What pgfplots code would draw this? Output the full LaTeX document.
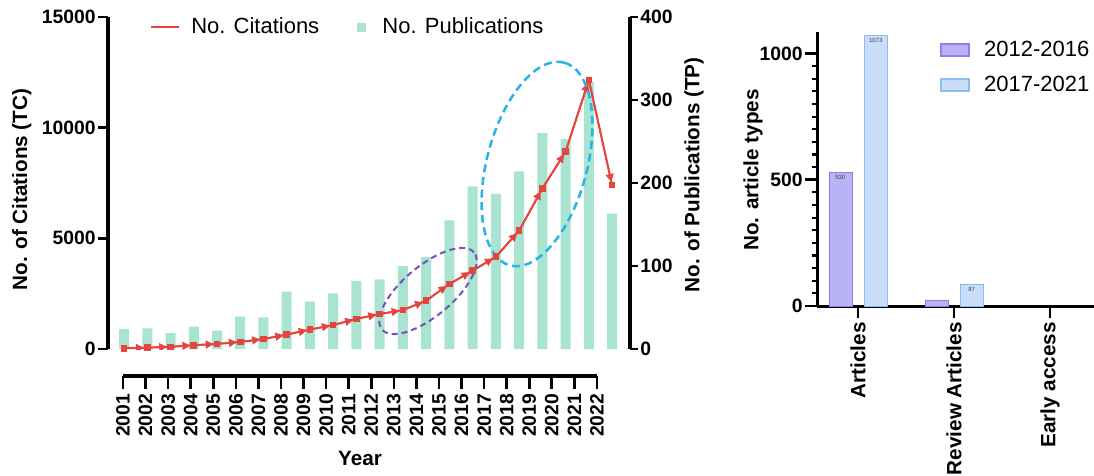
\documentclass[border=0pt]{standalone}
\usepackage{fontspec}
\setmainfont{Liberation Sans}
\usepackage{pgfplots}
\usepackage{pgfplotstable}
\pgfplotsset{compat=1.18}
\usetikzlibrary{arrows.meta,shapes.geometric}
\definecolor{mint}{RGB}{168,228,207}
\definecolor{cred}{RGB}{230,68,62}
\definecolor{epurple}{RGB}{120,80,190}
\definecolor{ecyan}{RGB}{40,180,230}
\definecolor{pfill}{RGB}{185,178,245}
\definecolor{pedge}{RGB}{140,128,232}
\definecolor{bfill}{RGB}{200,222,250}
\definecolor{bedge}{RGB}{140,188,240}

\pgfplotstableread{
year tp
2001 24
2002 25
2003 19
2004 27
2005 22
2006 39
2007 38
2008 69
2009 57
2010 67
2011 82
2012 84
2013 100
2014 111
2015 155
2016 196
2017 187
2018 214
2019 260
2020 253
2021 322
2022 163
}\pubtable

\pgfplotstableread{
year tc next
2001 30 60
2002 60 100
2003 100 170
2004 170 230
2005 230 320
2006 320 450
2007 450 650
2008 650 880
2009 880 1080
2010 1080 1360
2011 1360 1580
2012 1580 1760
2013 1760 2180
2014 2180 2940
2015 2940 3540
2016 3540 4170
2017 4170 5350
2018 5350 7250
2019 7250 8920
2020 8920 12150
2021 12150 7400
2022 7400 7400
}\cittable

\pgfplotsset{
  /pgf/number format/assume math mode=true,
  /pgf/number format/set thousands separator={},
  every tick/.style={black, line width=2pt},
}
\newcommand{\tickfont}{\bfseries\fontsize{14.5}{14.5}\selectfont}
\newcommand{\labfont}{\bfseries\fontsize{15.5}{15.5}\selectfont}

\begin{document}
\begin{tikzpicture}
\useasboundingbox (0,0) rectangle (820.5pt,356.25pt);

% ---- publications bars (right axis)
\begin{axis}[
  scale only axis, width=391.5pt, height=249pt,
  at={(81pt,94.5pt)}, anchor=south west,
  xmin=2000.31, xmax=2022.77, ymin=0, ymax=400,
  axis x line=none, axis y line*=right,
  ytick={0,100,200,300,400},
  tick align=outside, major tick length=6pt,
  axis line style={line width=3pt},
  yticklabel style={font=\tickfont, inner sep=1.5pt},
  ylabel={No. of Publications (TP)},
  every axis y label/.style={at={(axis description cs:1.1226,0.524)}, rotate=90, anchor=center, font=\labfont},
]
\addplot[ybar, bar width=7.5pt, fill=mint, draw=none] table[x=year,y=tp]{\pubtable};
\end{axis}

% ---- citations line (left axis)
\begin{axis}[
  scale only axis, width=391.5pt, height=249pt,
  at={(81pt,94.5pt)}, anchor=south west,
  xmin=2000.31, xmax=2022.77, ymin=0, ymax=15000,
  axis x line=none, axis y line*=left,
  ytick={0,5000,10000,15000}, scaled y ticks=false,
  tick align=outside, major tick length=7.5pt,
  axis line style={line width=3pt},
  yticklabel style={font=\tickfont, inner sep=1.5pt},
  ylabel={No. of Citations (TC)},
  every axis y label/.style={at={(axis description cs:-0.165,0.48)}, rotate=90, anchor=center, font=\labfont},
  legend style={at={(axis description cs:0.08,0.97)}, anchor=west, draw=none, fill=none,
    legend columns=2, inner sep=0pt, font=\fontsize{16.5}{16.5}\selectfont,
    /tikz/every even column/.append style={column sep=26pt}},
  legend cell align=left,
]
\addlegendimage{legend image code/.code={\draw[cred,line width=1.5pt] (0pt,0pt) -- (21pt,0pt); \path (28pt,0pt);}}
\addlegendentry{No. Citations}
\addlegendimage{legend image code/.code={\fill[mint] (0pt,-3pt) rectangle (6pt,3pt); \path (17pt,0pt);}}
\addlegendentry{No. Publications}
\addplot[cred, line width=1.5pt, mark=square*, mark size=1.7pt, forget plot] table[x=year,y=tc]{\cittable};
\addplot[cred, line width=1.2pt, forget plot, -{Triangle[length=6pt,width=6pt]}, shorten >=2.5pt,
  skip coords between index={21}{22},
  quiver={u=1, v=\thisrow{next}-\thisrow{tc}}] table[x=year,y=tc]{\cittable};
\node[draw=epurple, ellipse, dashed, dash pattern=on 4.5pt off 3pt, line width=1.5pt,
  minimum width=90pt, minimum height=37.5pt, inner sep=0pt, rotate=40] at (axis cs:2014.08,2620) {};
\node[draw=ecyan, ellipse, dashed, dash pattern=on 6pt off 3.5pt, line width=1.9pt,
  minimum width=157.5pt, minimum height=75pt, inner sep=0pt, rotate=75] at (axis cs:2018.77,8358) {};
\end{axis}

% ---- year axis
\begin{axis}[
  scale only axis, width=355.5pt, height=1pt,
  at={(92.25pt,74.25pt)}, anchor=south west,
  xmin=2001, xmax=2022, ymin=0, ymax=1,
  axis y line=none, axis x line*=bottom,
  axis line style={line width=2.5pt},
  xtick={2001,2002,...,2022},
  tick align=outside, major tick length=9.75pt,
  xticklabel style={rotate=90, anchor=east, font=\tickfont, inner sep=3.5pt},
  xlabel={Year},
  every axis x label/.style={at={(axis description cs:0.5,0)}, anchor=center, yshift=-61.5pt, font=\labfont},
]
\addplot[draw=none] coordinates {(2001,0.5)};
\end{axis}

% ---- article types
\begin{axis}[
  scale only axis, width=207.75pt, height=205.5pt,
  at={(612.75pt,126.75pt)}, anchor=south west,
  xmin=-0.427, xmax=2.458, ymin=0, ymax=1085,
  axis x line*=bottom, axis y line*=left,
  axis line style={line width=2.25pt},
  xtick={0,1,2}, xticklabels={Articles, Review Articles, Early access},
  ytick={0,500,1000}, minor ytick={50,100,...,450,550,600,...,950},
  tick align=outside, major tick length=9pt, minor tick length=4pt,
  minor tick style={line width=1.6pt, black},
  xticklabel style={rotate=90, anchor=east, font=\labfont, inner sep=3pt},
  yticklabel style={font=\tickfont, inner sep=1.5pt},
  ylabel={No. article types},
  every axis y label/.style={at={(axis description cs:-0.231,0.496)}, rotate=90, anchor=center, font=\labfont},
  ybar=9.3pt, bar width=17.25pt,
  point meta=explicit symbolic,
  nodes near coords,
  nodes near coords style={anchor=north, font=\fontsize{4.5}{4.5}\selectfont, inner sep=2pt, text=black!75},
  legend style={at={(axis description cs:0.444,0.934)}, anchor=north west, draw=none, fill=none,
    inner sep=0pt, font=\fontsize{16.5}{16.5}\selectfont, row sep=9.5pt, yshift=9pt},
  legend cell align=left,
  legend image code/.code={\draw[#1, line width=1.5pt] (0pt,-4.5pt) rectangle (21pt,4.5pt); \path (30pt,0pt);},
]
\addplot[fill=pfill, draw=pedge] coordinates {(0,530) [530] (1,24) [{}]};
\addlegendentry{2012-2016}
\addplot[fill=bfill, draw=bedge] coordinates {(0,1073) [1073] (1,87) [87]};
\addlegendentry{2017-2021}
\end{axis}
\end{tikzpicture}
\end{document}
